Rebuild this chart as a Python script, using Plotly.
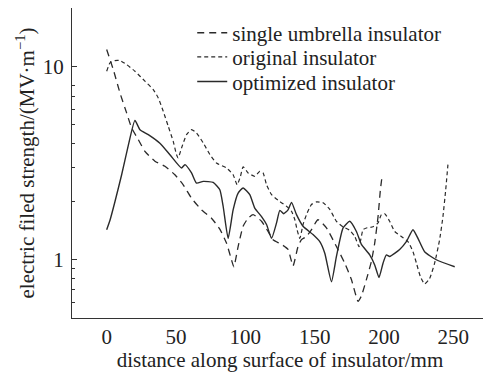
import plotly.graph_objects as go
import numpy as np

# single umbrella insulator (long dash)
single_x = [0, 4.8, 9.6, 14.4, 18, 22.8, 27.6, 34.8, 42, 49.2, 55.2, 61.2, 68.4, 75.6, 81.6, 86.4, 90, 91.7,
            94.8, 98.4, 102, 105.6, 111.7, 116.4, 120, 126.1, 130.8, 134.4, 138, 140.5, 144.1, 147.7, 152.4,
            158.5, 165.7, 171.7, 176.5, 181.3, 183.7, 187.3, 190.9, 193.3, 195.7, 197.4, 198.6]
single_y = [12.2, 9.6, 7.28, 5.74, 4.8, 4.18, 3.63, 3.23, 3.04, 2.75, 2.44, 2.08, 1.81, 1.64, 1.44, 1.22, 1.0, 0.92,
            1.17, 1.49, 1.64, 1.71, 1.58, 1.40, 1.27, 1.20, 1.13, 0.93, 1.17, 1.27, 1.32, 1.43, 1.61,
            1.46, 1.17, 0.96, 0.79, 0.61, 0.65, 0.79, 0.98, 1.22, 1.67, 2.30, 2.70]

# original insulator (short dash)
orig_x = [0, 2.4, 6, 9.6, 14.4, 20.4, 27.6, 33.6, 37.2, 40.8, 44.4, 48, 50.4, 51.6, 54, 57.6, 61.2, 64.8, 69.6,
          74.4, 79.2, 86.4, 91.2, 94.1, 96.5, 98.4, 102, 106.8, 110.4, 112.8, 115.3, 118.9, 124.9, 129.7, 133.3,
          135.7, 137.3, 139.3, 141.6, 144.1, 147.7, 151.3, 156.1, 160.9, 165.7, 170.5, 175.3, 178.9, 182,
          184.9, 187.3, 192.1, 195.7, 198.1, 200.5, 204.1, 207.7, 212.5, 217.3, 220.9, 223.4, 226.2, 229.3,
          232.9, 236.5, 240.1, 242.5, 244.5, 246.1]
orig_y = [9.42, 10.4, 10.7, 10.7, 10.2, 9.42, 8.37, 7.57, 6.86, 5.85, 4.9, 4.09, 3.49, 3.36, 3.78, 4.43, 4.7, 4.52, 4.02,
          3.5, 3.16, 2.98, 2.75, 2.44, 2.70, 3.02, 2.81, 2.70, 2.86, 2.81, 2.44, 2.17, 2.0, 1.89, 1.78,
          1.61, 1.43, 1.29, 1.52, 1.71, 1.93, 1.99, 1.97, 1.82, 1.58, 1.48, 1.42, 1.32, 1.17,
          1.43, 1.46, 1.48, 1.55, 1.71, 1.73, 1.58, 1.40, 1.32, 1.24, 1.10, 0.96, 0.82, 0.75,
          0.80, 0.96, 1.27, 1.67, 2.30, 3.1]

# optimized insulator (solid)
opt_x = [0, 2.4, 6, 10.8, 15.6, 20.4, 24, 30, 38.4, 45.6, 54, 56.4, 61.2, 64.8, 69.6, 76.8, 81.6, 84, 87.6,
         91.2, 94.8, 98.4, 103.2, 106.8, 111.7, 115.3, 118.9, 122.5, 124.9, 127.7, 130.8, 133.3, 136.9, 141.6,
         148.8, 153.7, 157.3, 162.1, 165.7, 170.5, 175.3, 180.1, 183.7, 189.7, 193.3, 196.4, 199.3, 201.7,
         204.1, 211.3, 216.1, 220.9, 224.5, 229.3, 237.7, 251]
opt_y = [1.43, 1.6, 2.0, 2.75, 3.9, 5.25, 4.7, 4.43, 4.0, 3.49, 2.98, 3.1, 2.81, 2.49, 2.54, 2.51, 2.30, 1.89, 1.29,
         1.81, 2.21, 2.35, 2.17, 1.85, 1.67, 1.52, 1.29, 1.55, 1.80, 1.73, 1.81, 1.98, 1.71, 1.49,
         1.35, 1.24, 1.08, 0.77, 1.04, 1.46, 1.58, 1.40, 1.20, 1.06, 0.94, 0.81, 0.96, 1.06,
         1.04, 1.13, 1.24, 1.43, 1.29, 1.10, 1.0, 0.92]

x_ticks = [0, 50, 100, 150, 200, 250]
y_ticks = [1, 10]
y_minor = [0.6, 0.7, 0.8, 0.9, 2, 3, 4, 5, 6, 7, 8]

FONT = "Liberation Serif"
LC = "#2a2a2a"
FS = 21

fig = go.Figure()
fig.add_trace(go.Scatter(x=single_x, y=single_y, mode="lines", name="single umbrella insulator", legend="legend",
                         line=dict(color=LC, width=1.3, dash="7px,5px", shape="spline", smoothing=0.5)))
fig.add_trace(go.Scatter(x=orig_x, y=orig_y, mode="lines", name="original insulator", legend="legend2",
                         line=dict(color=LC, width=1.2, dash="4px,3px", shape="spline", smoothing=0.5)))
fig.add_trace(go.Scatter(x=opt_x, y=opt_y, mode="lines", name="optimized insulator", legend="legend3",
                         line=dict(color=LC, width=1.4, shape="spline", smoothing=0.5)))

LX = 0.289
leg_common = dict(x=LX, xanchor="left", yanchor="middle", bgcolor="rgba(0,0,0,0)",
                  font=dict(family=FONT, size=FS, color="#222"), itemwidth=30, borderwidth=0)

# the page body adds an 8px offset, so the figure is sized to the remaining window
fig.update_layout(
    width=483, height=364,
    margin=dict(l=64, r=3, t=0, b=54, autoexpand=False),
    paper_bgcolor="white", plot_bgcolor="white",
    font=dict(family=FONT, size=FS, color="#222"),
    showlegend=True,
    legend=dict(y=0.919, **leg_common),
    legend2=dict(y=0.841, **leg_common),
    legend3=dict(y=0.762, **leg_common),
)
fig.update_xaxes(range=[-25, 275], tickvals=x_ticks, ticks="", ticklen=0, showline=True, linecolor="#333",
                 linewidth=1.2, showgrid=False, zeroline=False, mirror=False, automargin=False,
                 tickfont=dict(family=FONT, size=FS),
                 title=dict(text="distance along surface of insulator/mm", standoff=0,
                            font=dict(family=FONT, size=FS)))
fig.update_yaxes(type="log", range=[np.log10(0.5), np.log10(20)], tickvals=y_ticks, ticktext=["1", "10"],
                 ticks="inside", ticklen=5, tickcolor="#333", showline=True, linecolor="#333", linewidth=1.2,
                 showgrid=False, zeroline=False, automargin=False, tickfont=dict(family=FONT, size=FS),
                 ticklabelstandoff=3,
                 minor=dict(tickvals=y_minor, ticks="inside", ticklen=3, tickcolor="#333", showgrid=False),
                 title=dict(text="electric filed strength/(MV·m<sup>−1</sup>)", standoff=2,
                            font=dict(family=FONT, size=FS)))

fig.write_html("out.html")
